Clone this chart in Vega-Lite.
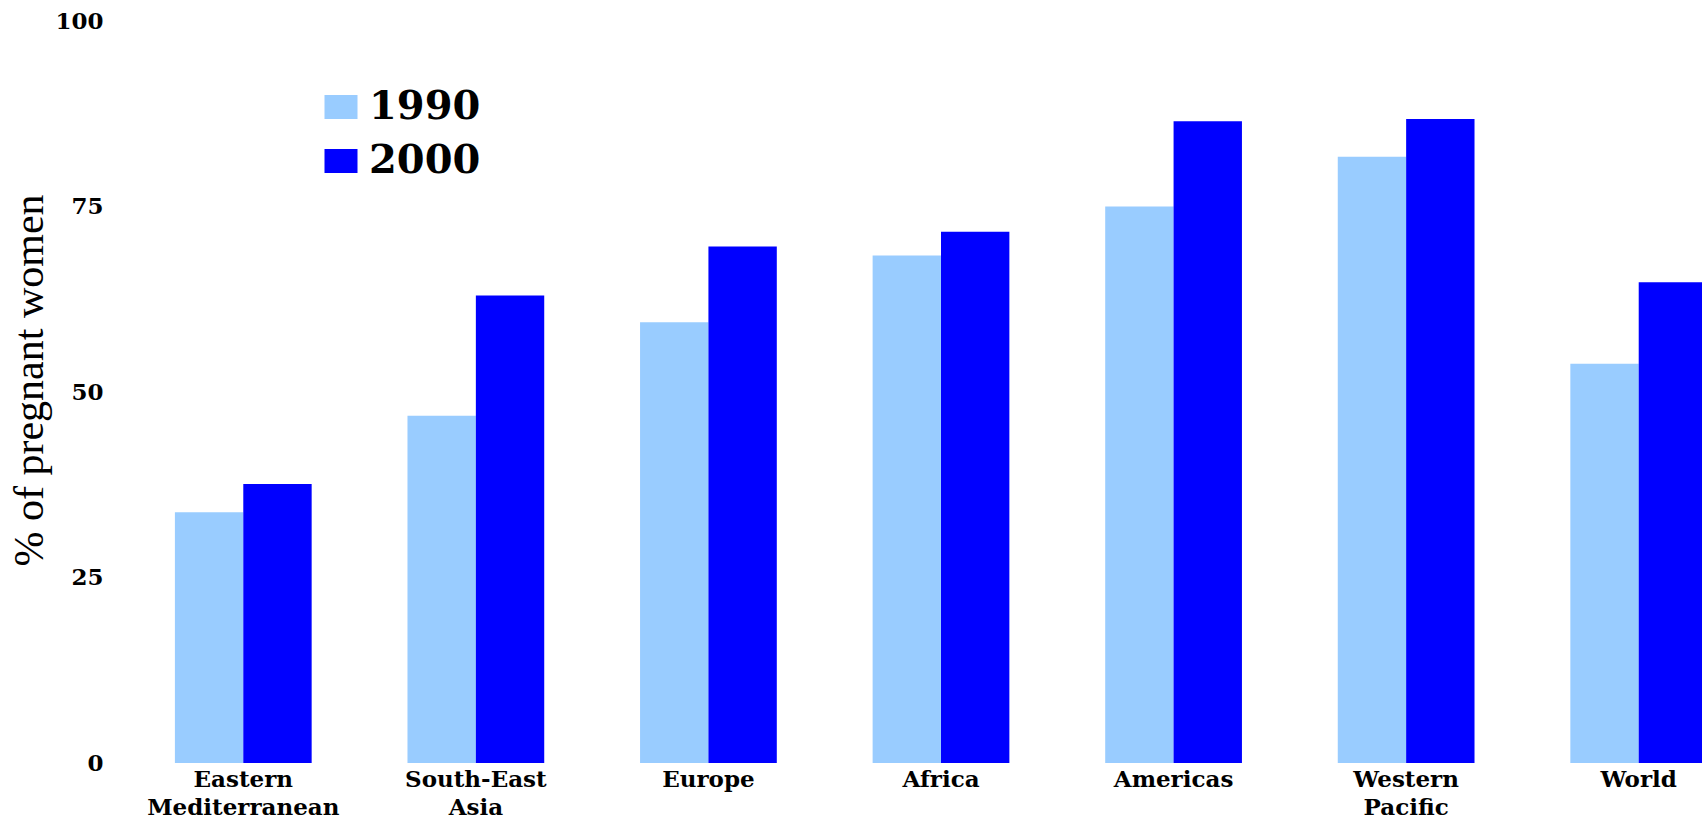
{
  "$schema": "https://vega.github.io/schema/vega-lite/v6.json",
  "autosize": "none",
  "padding": {"left": 127, "top": 21, "right": 0, "bottom": 58},
  "width": 1575,
  "height": 742,
  "background": "white",
  "config": {"view": {"stroke": null}, "legend": {"padding": 0}},
  "data": {
    "values": [
      {"region": "Eastern Mediterranean", "year": "1990", "pct": 33.8},
      {"region": "Eastern Mediterranean", "year": "2000", "pct": 37.6},
      {"region": "South-East Asia", "year": "1990", "pct": 46.8},
      {"region": "South-East Asia", "year": "2000", "pct": 63.0},
      {"region": "Europe", "year": "1990", "pct": 59.4},
      {"region": "Europe", "year": "2000", "pct": 69.6},
      {"region": "Africa", "year": "1990", "pct": 68.4},
      {"region": "Africa", "year": "2000", "pct": 71.6},
      {"region": "Americas", "year": "1990", "pct": 75.0},
      {"region": "Americas", "year": "2000", "pct": 86.5},
      {"region": "Western Pacific", "year": "1990", "pct": 81.7},
      {"region": "Western Pacific", "year": "2000", "pct": 86.8},
      {"region": "World", "year": "1990", "pct": 53.8},
      {"region": "World", "year": "2000", "pct": 64.8}
    ]
  },
  "mark": {"type": "bar"},
  "encoding": {
    "x": {
      "field": "region",
      "type": "nominal",
      "sort": null,
      "scale": {"range": [0, 1628], "paddingInner": 0.412, "paddingOuter": 0.206},
      "axis": {
        "title": null,
        "domain": false,
        "ticks": false,
        "labelAngle": 0,
        "labelFont": "DejaVu Serif",
        "labelFontWeight": "bold",
        "labelFontSize": 23,
        "labelColor": "black",
        "labelPadding": 5,
        "labelLimit": 400,
        "labelLineHeight": 28,
        "labelBaseline": "top",
        "labelExpr": "datum.label == 'Eastern Mediterranean' ? ['Eastern','Mediterranean'] : datum.label == 'South-East Asia' ? ['South-East','Asia'] : datum.label == 'Western Pacific' ? ['Western','Pacific'] : datum.label"
      }
    },
    "xOffset": {"field": "year", "type": "nominal", "scale": {"paddingInner": 0, "paddingOuter": 0}},
    "y": {
      "field": "pct",
      "type": "quantitative",
      "scale": {"domain": [0, 100]},
      "axis": {
        "values": [0, 25, 50, 75, 100],
        "grid": false,
        "domain": false,
        "ticks": false,
        "labelFont": "DejaVu Serif",
        "labelFontWeight": "bold",
        "labelFontSize": 23,
        "labelColor": "black",
        "labelPadding": 24,
        "title": "% of pregnant women",
        "titleFont": "Liberation Serif",
        "titleFontWeight": "normal",
        "titleFontSize": 42,
        "titleColor": "black",
        "titleAngle": -90,
        "titleX": -98,
        "titleY": 359,
        "titleAlign": "center",
        "titleBaseline": "middle"
      }
    },
    "color": {
      "field": "year",
      "type": "nominal",
      "scale": {"domain": ["1990", "2000"], "range": ["#99CCFF", "#0000FF"]},
      "legend": {
        "title": null,
        "orient": "none",
        "legendX": 194,
        "legendY": 66,
        "symbolType": "M-1,-0.727H1V0.727H-1Z",
        "symbolSize": 1089,
        "symbolStrokeWidth": 0,
        "symbolOpacity": 1,
        "labelFont": "DejaVu Serif",
        "labelFontWeight": "bold",
        "labelFontSize": 40,
        "labelColor": "black",
        "labelOffset": 8,
        "rowPadding": 14
      }
    }
  }
}
